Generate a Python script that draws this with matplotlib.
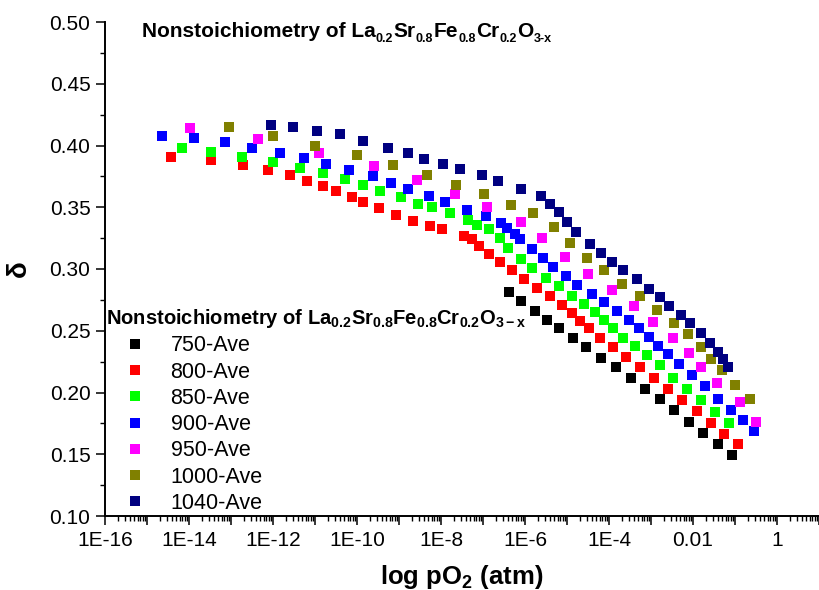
import numpy as np
import matplotlib
matplotlib.use("Agg")
import matplotlib.pyplot as plt
from matplotlib.ticker import LogLocator, FuncFormatter, MultipleLocator, NullFormatter

plt.rcParams['font.family'] = 'Liberation Sans'
plt.rcParams['mathtext.fontset'] = 'custom'
plt.rcParams['mathtext.rm'] = 'Liberation Sans:bold'
plt.rcParams['mathtext.it'] = 'Liberation Sans:bold'
plt.rcParams['mathtext.bf'] = 'Liberation Sans:bold'

# log10(pO2 / atm) and delta
logp_750 = [-6.38, -6.10, -5.75, -5.48, -5.19, -4.86, -4.54, -4.18, -3.83, -3.48,
            -3.14, -2.79, -2.45, -2.10, -1.75, -1.40, -1.06]
delta_750 = [0.281, 0.274, 0.266, 0.259, 0.252, 0.244, 0.237, 0.228, 0.221, 0.212,
             0.203, 0.195, 0.186, 0.176, 0.167, 0.158, 0.149]

logp_800 = [-14.43, -13.48, -12.71, -12.12, -11.60, -11.19, -10.80, -10.50, -10.11, -9.85,
            -9.48, -9.06, -8.66, -8.26, -7.97, -7.45, -7.27, -7.09, -6.85, -6.60,
            -6.32, -6.03, -5.71, -5.40, -5.12, -4.89, -4.69, -4.48, -4.21, -3.91,
            -3.59, -3.25, -2.92, -2.59, -2.25, -1.91, -1.58, -1.25, -0.94]
delta_800 = [0.391, 0.388, 0.384, 0.380, 0.376, 0.371, 0.367, 0.363, 0.358, 0.354,
             0.349, 0.344, 0.339, 0.335, 0.332, 0.327, 0.324, 0.319, 0.312, 0.306,
             0.299, 0.292, 0.285, 0.278, 0.271, 0.264, 0.258, 0.252, 0.244, 0.237,
             0.229, 0.221, 0.212, 0.203, 0.194, 0.185, 0.175, 0.166, 0.158]

logp_850 = [-14.17, -13.48, -12.73, -12.01, -11.36, -10.81, -10.29, -9.85, -9.45, -8.95,
            -8.54, -8.21, -7.79, -7.36, -7.14, -6.86, -6.60, -6.40, -6.10, -5.83,
            -5.50, -5.18, -4.87, -4.59, -4.33, -4.12, -3.91, -3.67, -3.39, -3.10,
            -2.79, -2.47, -2.14, -1.80, -1.47, -1.15]
delta_850 = [0.398, 0.395, 0.391, 0.387, 0.382, 0.378, 0.373, 0.368, 0.363, 0.358,
             0.353, 0.350, 0.345, 0.340, 0.336, 0.332, 0.325, 0.317, 0.308, 0.301,
             0.293, 0.286, 0.278, 0.272, 0.265, 0.259, 0.252, 0.244, 0.238, 0.230,
             0.222, 0.212, 0.203, 0.194, 0.184, 0.175]

logp_900 = [-14.65, -13.88, -13.15, -12.51, -11.83, -11.26, -10.73, -10.19, -9.63, -9.18,
            -8.78, -8.29, -7.90, -7.37, -6.92, -6.58, -6.42, -6.24, -6.12, -5.83,
            -5.57, -5.33, -5.03, -4.75, -4.41, -4.12, -3.82, -3.52, -3.28, -3.05,
            -2.83, -2.59, -2.33, -2.03, -1.71, -1.41, -1.10, -0.81, -0.55]
delta_900 = [0.408, 0.406, 0.403, 0.398, 0.394, 0.390, 0.385, 0.380, 0.375, 0.370,
             0.365, 0.359, 0.354, 0.348, 0.343, 0.337, 0.333, 0.328, 0.324, 0.316,
             0.309, 0.302, 0.294, 0.287, 0.280, 0.273, 0.266, 0.259, 0.252, 0.245,
             0.238, 0.231, 0.223, 0.214, 0.205, 0.195, 0.186, 0.178, 0.169]

logp_950 = [-13.98, -12.35, -10.90, -9.60, -8.57, -7.67, -6.91, -6.10, -5.60, -5.05,
            -4.51, -3.93, -3.40, -2.95, -2.47, -2.10, -1.82, -1.42, -0.89, -0.51]
delta_950 = [0.414, 0.405, 0.394, 0.383, 0.372, 0.361, 0.350, 0.338, 0.325, 0.310,
             0.296, 0.283, 0.270, 0.257, 0.244, 0.232, 0.221, 0.208, 0.192, 0.176]

logp_1000 = [-13.04, -12.01, -10.99, -10.00, -9.14, -8.34, -7.64, -6.98, -6.33, -5.80,
             -5.32, -4.94, -4.52, -4.11, -3.68, -3.27, -2.86, -2.45, -2.13, -1.80,
             -1.58, -1.31, -0.99, -0.64]
delta_1000 = [0.415, 0.408, 0.400, 0.392, 0.384, 0.376, 0.368, 0.361, 0.352, 0.345,
              0.334, 0.321, 0.309, 0.299, 0.288, 0.278, 0.267, 0.256, 0.247, 0.237,
              0.227, 0.218, 0.206, 0.195]

logp_1040 = [-12.05, -11.53, -10.95, -10.40, -9.86, -9.26, -8.79, -8.40, -7.95, -7.55,
             -7.02, -6.64, -6.10, -5.63, -5.40, -5.19, -5.01, -4.79, -4.46, -4.20,
             -3.94, -3.66, -3.34, -3.05, -2.79, -2.56, -2.29, -2.06, -1.81, -1.59,
             -1.40, -1.29, -1.17]
delta_1040 = [0.417, 0.415, 0.412, 0.409, 0.404, 0.398, 0.394, 0.389, 0.385, 0.381,
              0.376, 0.371, 0.365, 0.359, 0.353, 0.346, 0.338, 0.330, 0.320, 0.313,
              0.306, 0.299, 0.292, 0.284, 0.277, 0.270, 0.263, 0.256, 0.248, 0.240,
              0.233, 0.227, 0.221]

labels = ['750-Ave', '800-Ave', '850-Ave', '900-Ave', '950-Ave', '1000-Ave', '1040-Ave']
colors = ['#000000', '#ff0000', '#00ff00', '#0000ff', '#ff00ff', '#808000', '#000080']
series = [(logp_750, delta_750), (logp_800, delta_800), (logp_850, delta_850),
          (logp_900, delta_900), (logp_950, delta_950), (logp_1000, delta_1000),
          (logp_1040, delta_1040)]

formula = r'Nonstoichiometry of La$_{0.2}$Sr$_{0.8}$Fe$_{0.8}$Cr$_{0.2}$O$_{3-x}$'
# same formula as (text, is_subscript) pieces for the big title
title_parts = [('Nonstoichiometry of La', False), ('0.2', True), ('Sr', False),
               ('0.8', True), ('Fe', False), ('0.8', True), ('Cr', False),
               ('0.2', True), ('O', False), ('3-x', True)]

W, H = 820, 590
fig = plt.figure(figsize=(8.2, 5.9), dpi=100)
ax = fig.add_axes([105/W, 74/H, 714/W, 494/H])

for (lp, d), lab, c in zip(series, labels, colors):
    ax.plot(10.0**np.array(lp), d, 's', color=c, markersize=7.2, markeredgewidth=0,
            label=lab)

ax.set_xscale('log')
ax.set_xlim(1e-16, 10)
ax.set_ylim(0.10, 0.50)

def xfmt(v, pos):
    e = int(round(np.log10(v)))
    if e % 2:
        return ''
    if e == 0:
        return '1'
    if e == -2:
        return '0.01'
    return '1E-%d' % (-e)

ax.xaxis.set_major_locator(LogLocator(base=10, numticks=40))
ax.xaxis.set_minor_locator(LogLocator(base=10, subs=np.arange(2, 10), numticks=40))
ax.xaxis.set_major_formatter(FuncFormatter(xfmt))
ax.xaxis.set_minor_formatter(NullFormatter())
ax.yaxis.set_major_locator(MultipleLocator(0.05))
ax.yaxis.set_minor_locator(MultipleLocator(0.025))
ax.yaxis.set_major_formatter(FuncFormatter(lambda v, p: '%.2f' % v))

for s in ['top', 'right']:
    ax.spines[s].set_visible(False)
for s in ['left', 'bottom']:
    ax.spines[s].set_linewidth(1.4)

ax.tick_params(which='major', direction='out', length=6.5, width=1.1, labelsize=15, pad=4)
ax.tick_params(which='minor', direction='out', length=3.6, width=1.0)

ax.set_xlabel(r'log pO$_2$ (atm)', fontsize=18.5, fontweight='bold', labelpad=10)
ax.set_ylabel(r'$\delta$', fontsize=20)
ax.yaxis.set_label_coords(-72/714, 0.498)

# big title, built piece by piece so the subscripts can be small
renderer = fig.canvas.get_renderer()
x = 142.0
base = 37.0
for txt, sub in title_parts:
    size = 9.0 if sub else 15.0
    yb = base + 5.0 if sub else base
    t = fig.text(x / W, 1 - yb / H, txt, fontsize=size, fontweight='bold',
                 ha='left', va='baseline')
    x += t.get_window_extent(renderer).width + (0.5 if sub else 0.0)

leg = ax.legend(loc='upper left', bbox_to_anchor=(106/W, 1 - 307/H),
                bbox_transform=fig.transFigure, frameon=False, title=formula,
                title_fontproperties={'size': 14.5, 'weight': 'bold'},
                fontsize=15.5, alignment='left', borderpad=0, borderaxespad=0,
                handlelength=2.7, handletextpad=0.3, labelspacing=0.245,
                markerscale=1.0)

fig.savefig('out.png', dpi=100)
